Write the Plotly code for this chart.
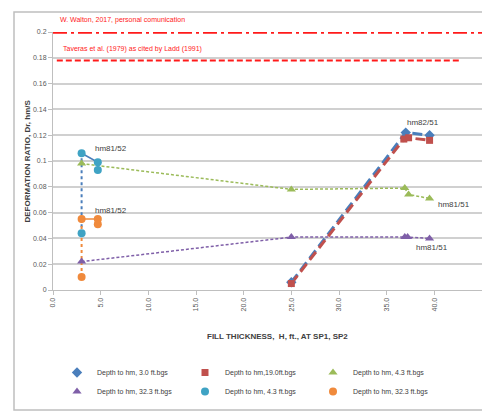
import plotly.graph_objects as go

# ---- data ----
x_d3 = [25.0, 37.0, 39.5]
y_d3 = [0.006, 0.122, 0.120]
x_d19 = [25.0, 36.8, 37.3, 39.5]
y_d19 = [0.005, 0.117, 0.118, 0.116]
x_d43a = [3.0, 25.0, 36.9, 37.3, 39.5]
y_d43a = [0.098, 0.078, 0.079, 0.074, 0.071]
x_d323a = [3.0, 25.0, 36.9, 37.2, 39.5]
y_d323a = [0.022, 0.041, 0.041, 0.041, 0.040]
x_d43b = [3.0, 3.0, 4.7, 4.7]
y_d43b = [0.044, 0.106, 0.099, 0.093]
x_d323b = [3.0, 3.0, 4.7, 4.7]
y_d323b = [0.010, 0.055, 0.055, 0.051]

ref_walton = 0.200
ref_taveras = 0.178
x_walton = [0.0, 45.0]
x_taveras = [0.4, 42.6]

x_ticks = [0, 5, 10, 15, 20, 25, 30, 35, 40, 45]

C_BLUE = "#4a7ebb"
C_RED = "#c0504d"
C_GREEN = "#9bbb59"
C_PURPLE = "#7f5fa8"
C_CYAN = "#3fa3c4"
C_ORANGE = "#f08a3c"

fig = go.Figure()

# reference lines
fig.add_trace(go.Scatter(x=x_walton, y=[ref_walton] * 2, mode="lines",
                         line=dict(color="#ff1a1a", width=3.5, dash="14px,4px,3px,4px"),
                         showlegend=False, hoverinfo="skip"))
fig.add_trace(go.Scatter(x=x_taveras, y=[ref_taveras] * 2, mode="lines",
                         line=dict(color="#ff1a1a", width=2, dash="6px,3px"),
                         showlegend=False, hoverinfo="skip"))

# connecting lines (not in legend)
fig.add_trace(go.Scatter(x=x_d43b[:2], y=y_d43b[:2], mode="lines",
                         line=dict(color=C_BLUE, width=2, dash="dot"),
                         showlegend=False))
fig.add_trace(go.Scatter(x=x_d323b[:2], y=y_d323b[:2], mode="lines",
                         line=dict(color=C_ORANGE, width=2, dash="dot"),
                         showlegend=False))
fig.add_trace(go.Scatter(x=x_d43b[1:], y=y_d43b[1:], mode="lines",
                         line=dict(color=C_BLUE, width=1.5), showlegend=False))
fig.add_trace(go.Scatter(x=x_d323b[1:], y=y_d323b[1:], mode="lines",
                         line=dict(color=C_ORANGE, width=1.5), showlegend=False))
fig.add_trace(go.Scatter(x=x_d43a, y=y_d43a, mode="lines",
                         line=dict(color=C_GREEN, width=1.5, dash="3px,2px"), showlegend=False))
fig.add_trace(go.Scatter(x=x_d323a, y=y_d323a, mode="lines",
                         line=dict(color=C_PURPLE, width=1.5, dash="3px,2px"), showlegend=False))
fig.add_trace(go.Scatter(x=x_d3, y=y_d3, mode="lines",
                         line=dict(color=C_BLUE, width=3, dash="10px,5px"), showlegend=False))
fig.add_trace(go.Scatter(x=x_d19, y=y_d19, mode="lines",
                         line=dict(color=C_RED, width=3, dash="10px,5px"), showlegend=False))

# markers (legend entries)
fig.add_trace(go.Scatter(x=x_d3, y=y_d3, mode="markers",
                         name="Depth to hm, 3.0 ft.bgs",
                         marker=dict(symbol="diamond", size=8, color=C_BLUE)))
fig.add_trace(go.Scatter(x=x_d19, y=y_d19, mode="markers",
                         name="Depth to hm,19.0ft.bgs",
                         marker=dict(symbol="square", size=7, color=C_RED)))
fig.add_trace(go.Scatter(x=x_d43a, y=y_d43a, mode="markers",
                         name="Depth to hm, 4.3 ft.bgs",
                         marker=dict(symbol="triangle-up", size=8, color=C_GREEN)))
fig.add_trace(go.Scatter(x=x_d323a, y=y_d323a, mode="markers",
                         name="Depth to hm, 32.3 ft.bgs",
                         marker=dict(symbol="triangle-up", size=8, color=C_PURPLE)))
fig.add_trace(go.Scatter(x=x_d43b, y=y_d43b, mode="markers",
                         name="Depth to hm, 4.3 ft.bgs",
                         marker=dict(symbol="circle", size=8, color=C_CYAN)))
fig.add_trace(go.Scatter(x=x_d323b, y=y_d323b, mode="markers",
                         name="Depth to hm, 32.3 ft.bgs",
                         marker=dict(symbol="circle", size=8, color=C_ORANGE)))

ann_font = dict(family="Liberation Sans", size=8, color="#404040")
annotations = [
    dict(x=4.2, y=0.110, text="hm81/52", showarrow=False, xanchor="left", font=ann_font),
    dict(x=4.2, y=0.062, text="hm81/52", showarrow=False, xanchor="left", font=ann_font),
    dict(x=36.9, y=0.130, text="hm82/51", showarrow=False, xanchor="left", font=ann_font),
    dict(x=40.2, y=0.066, text="hm81/51", showarrow=False, xanchor="left", font=ann_font),
    dict(x=37.9, y=0.033, text="hm81/51", showarrow=False, xanchor="left", font=ann_font),
    dict(x=0.5, y=ref_walton, yshift=6, text="W. Walton, 2017, personal comunication",
         showarrow=False, xanchor="left", yanchor="bottom",
         font=dict(family="Liberation Sans", size=7, color="#ff1a1a")),
    dict(x=0.8, y=ref_taveras, yshift=5, text="Taveras et al. (1979) as cited by Ladd (1991)",
         showarrow=False, xanchor="left", yanchor="bottom",
         font=dict(family="Liberation Sans", size=7, color="#ff1a1a")),
    dict(xref="paper", yref="paper", x=(277 - 53) / 429, y=(290 - 343) / 258,
         text="<b>FILL THICKNESS,  H, ft., AT SP1, SP2</b>", showarrow=False,
         font=dict(family="Liberation Sans", size=8, color="#404040")),
    dict(xref="paper", yref="paper", x=(20 - 53) / 429, y=0.5,
         text="<b>DEFORMATION RATIO, Dr, hm/S</b>", showarrow=False, textangle=-90,
         font=dict(family="Liberation Sans", size=8, color="#404040")),
]

fig.update_layout(
    width=482, height=417,
    margin=dict(l=53, r=0, t=32, b=127),
    paper_bgcolor="white", plot_bgcolor="white",
    font=dict(family="Liberation Sans", size=8, color="#595959"),
    annotations=annotations,
    shapes=[dict(type="rect", xref="paper", yref="paper",
                 x0=(14 - 53) / 429, x1=1.05, y0=(290 - 410) / 258, y1=1 + 20 / 258,
                 line=dict(color="#bfbfbf", width=1.5), layer="below")],
    legend=dict(orientation="h", x=(57 - 53) / 429, xanchor="left",
                y=(290 - 358) / 258, yanchor="top",
                entrywidth=83, entrywidthmode="pixels",
                font=dict(size=7, color="#404040"), itemwidth=30,
                tracegroupgap=0,
                bgcolor="rgba(0,0,0,0)"),
    xaxis=dict(range=[0, 45], tickvals=x_ticks, tickformat=".1f", tickangle=-90,
               showgrid=False, showline=True, linecolor="#bfbfbf", linewidth=1,
               ticks="outside", tickcolor="#bfbfbf", ticklen=4, zeroline=False,
               tickfont=dict(size=7, color="#595959")),
    yaxis=dict(range=[0, 0.2], dtick=0.02, showgrid=True, gridcolor="#d0d0d0",
               gridwidth=1.5, showline=True, linecolor="#bfbfbf", linewidth=1,
               ticks="outside", tickcolor="#bfbfbf", ticklen=4, zeroline=False,
               tickfont=dict(size=7, color="#595959")),
)

fig.write_html("out.html")
